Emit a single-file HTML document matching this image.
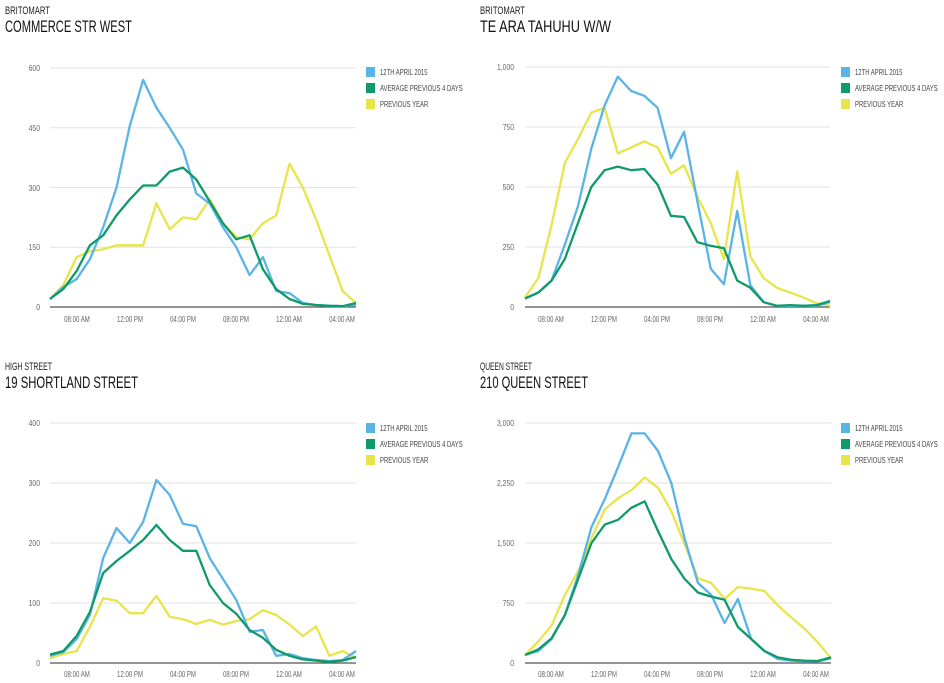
<!DOCTYPE html>
<html><head><meta charset="utf-8"><style>
body{margin:0;background:#fff;width:944px;height:683px;overflow:hidden}
svg{display:block}
.t1{font-family:"Liberation Sans",sans-serif;font-size:11px;fill:#222}
.t2{font-family:"Liberation Sans",sans-serif;font-size:17px;fill:#111}
.ax{font-family:"Liberation Sans",sans-serif;font-size:8px;fill:#666}
.lg{font-family:"Liberation Sans",sans-serif;font-size:8px;fill:#444}
</style></head><body>
<svg id="s" width="944" height="683" viewBox="0 0 944 683">
<text class="t1" x="5" y="14" textLength="45" lengthAdjust="spacingAndGlyphs">BRITOMART</text>
<text class="t2" x="5" y="32" textLength="127" lengthAdjust="spacingAndGlyphs">COMMERCE STR WEST</text>
<text class="t1" x="480" y="14" textLength="45" lengthAdjust="spacingAndGlyphs">BRITOMART</text>
<text class="t2" x="480" y="32" textLength="131" lengthAdjust="spacingAndGlyphs">TE ARA TAHUHU W/W</text>
<text class="t1" x="5" y="370" textLength="47" lengthAdjust="spacingAndGlyphs">HIGH STREET</text>
<text class="t2" x="5" y="388" textLength="133" lengthAdjust="spacingAndGlyphs">19 SHORTLAND STREET</text>
<text class="t1" x="480" y="370" textLength="52" lengthAdjust="spacingAndGlyphs">QUEEN STREET</text>
<text class="t2" x="480" y="388" textLength="108" lengthAdjust="spacingAndGlyphs">210 QUEEN STREET</text>

<g class="ax yl" text-anchor="end">
<text x="40" y="71">600</text><text x="40" y="131">450</text><text x="40" y="191">300</text><text x="40" y="250">150</text><text x="40" y="310">0</text>
<text x="514" y="70">1,000</text><text x="514" y="130">750</text><text x="514" y="190">500</text><text x="514" y="250">250</text><text x="514" y="310">0</text>
<text x="40" y="426">400</text><text x="40" y="486">300</text><text x="40" y="546">200</text><text x="40" y="606">100</text><text x="40" y="666">0</text>
<text x="514" y="426">3,000</text><text x="514" y="486">2,250</text><text x="514" y="546">1,500</text><text x="514" y="606">750</text><text x="514" y="666">0</text>
</g>
<g class="ax xl" text-anchor="middle">
<text x="77" y="322">08:00 AM</text><text x="130" y="322">12:00 PM</text><text x="183" y="322">04:00 PM</text><text x="236" y="322">08:00 PM</text><text x="289" y="322">12:00 AM</text><text x="342" y="322">04:00 AM</text>
<text x="551" y="322">08:00 AM</text><text x="604" y="322">12:00 PM</text><text x="657" y="322">04:00 PM</text><text x="710" y="322">08:00 PM</text><text x="763" y="322">12:00 AM</text><text x="816" y="322">04:00 AM</text>
<text x="77" y="677">08:00 AM</text><text x="130" y="677">12:00 PM</text><text x="183" y="677">04:00 PM</text><text x="236" y="677">08:00 PM</text><text x="289" y="677">12:00 AM</text><text x="342" y="677">04:00 AM</text>
<text x="551" y="677">08:00 AM</text><text x="604" y="677">12:00 PM</text><text x="657" y="677">04:00 PM</text><text x="710" y="677">08:00 PM</text><text x="763" y="677">12:00 AM</text><text x="816" y="677">04:00 AM</text>
</g>
<g class="lg">
<rect x="366" y="67" width="9" height="10" fill="#5ab4e5"/><text x="380" y="75">12TH APRIL 2015</text>
<rect x="366" y="83" width="9" height="10" fill="#0f9a6a"/><text x="380" y="91">AVERAGE PREVIOUS 4 DAYS</text>
<rect x="366" y="99" width="9" height="10" fill="#e8e54a"/><text x="380" y="107">PREVIOUS YEAR</text>
<rect x="841" y="67" width="9" height="10" fill="#5ab4e5"/><text x="855" y="75">12TH APRIL 2015</text>
<rect x="841" y="83" width="9" height="10" fill="#0f9a6a"/><text x="855" y="91">AVERAGE PREVIOUS 4 DAYS</text>
<rect x="841" y="99" width="9" height="10" fill="#e8e54a"/><text x="855" y="107">PREVIOUS YEAR</text>
<rect x="366" y="423" width="9" height="10" fill="#5ab4e5"/><text x="380" y="431">12TH APRIL 2015</text>
<rect x="366" y="439" width="9" height="10" fill="#0f9a6a"/><text x="380" y="447">AVERAGE PREVIOUS 4 DAYS</text>
<rect x="366" y="455" width="9" height="10" fill="#e8e54a"/><text x="380" y="463">PREVIOUS YEAR</text>
<rect x="841" y="423" width="9" height="10" fill="#5ab4e5"/><text x="855" y="431">12TH APRIL 2015</text>
<rect x="841" y="439" width="9" height="10" fill="#0f9a6a"/><text x="855" y="447">AVERAGE PREVIOUS 4 DAYS</text>
<rect x="841" y="455" width="9" height="10" fill="#e8e54a"/><text x="855" y="463">PREVIOUS YEAR</text>
</g>
<g id="plots"></g>
</svg>
<script>
function squeeze(sel,f){document.querySelectorAll(sel).forEach(function(t){var w=t.getComputedTextLength();t.setAttribute("textLength",(w*f).toFixed(1));t.setAttribute("lengthAdjust","spacingAndGlyphs");});}
squeeze(".lg text",0.74);squeeze(".xl text",0.76);squeeze(".yl text",0.85);
var charts=[
{x0:50,x1:356,yt:68,yb:307,max:600,d:[
[20,50,70,120,200,300,455,570,500,450,395,285,260,200,150,80,125,40,35,10,5,3,2,5],
[20,45,90,155,180,230,270,305,305,340,350,320,265,210,170,180,95,45,20,8,5,3,2,10],
[20,55,125,140,145,155,155,155,260,195,225,220,270,210,175,170,210,230,360,300,220,130,40,10]]},
{x0:525,x1:830,yt:67,yb:307,max:1000,d:[
[35,60,110,260,420,660,840,960,900,880,830,620,730,440,160,95,400,90,20,5,5,5,5,20],
[35,60,110,200,350,500,570,585,570,575,510,380,375,270,255,245,110,80,20,5,8,5,8,25],
[40,120,340,600,700,810,830,640,665,690,665,555,590,460,350,200,565,210,120,80,60,40,15,5]]},
{x0:50,x1:356,yt:423,yb:663,max:400,d:[
[12,18,40,80,175,225,200,235,305,280,232,228,175,140,105,52,55,12,15,8,5,3,5,20],
[14,20,45,85,150,170,187,205,230,205,187,187,130,100,82,55,42,22,12,6,4,2,4,10],
[8,15,20,60,108,104,83,83,112,77,73,65,72,64,70,73,88,80,64,45,61,12,20,8]]},
{x0:525,x1:831,yt:423,yb:663,max:3000,d:[
[100,150,300,600,1100,1700,2050,2450,2870,2870,2650,2250,1550,1000,850,500,800,300,150,50,30,20,20,60],
[100,170,310,600,1050,1500,1730,1790,1940,2020,1650,1300,1050,880,830,790,450,300,150,70,40,30,25,70],
[100,270,470,850,1150,1560,1920,2060,2160,2320,2190,1900,1480,1060,1000,800,950,930,900,720,570,430,260,60]]}];
var cols=["#5ab4e5","#0f9a6a","#e8e54a"],h="";
charts.forEach(function(c){
 for(var i=1;i<=4;i++){var y=c.yb-(c.yb-c.yt)*i/4;h+='<line x1="'+c.x0+'" x2="'+c.x1+'" y1="'+y+'" y2="'+y+'" stroke="#e2e2e2" stroke-width="1"/>';}
 h+='<line x1="'+c.x0+'" x2="'+c.x1+'" y1="'+c.yb+'" y2="'+c.yb+'" stroke="#555" stroke-width="1.2"/>';
 [2,0,1].forEach(function(k){var p=c.d[k].map(function(v,i){return (c.x0+(c.x1-c.x0)*i/23).toFixed(1)+","+(c.yb-(c.yb-c.yt)*v/c.max).toFixed(1)}).join(" ");
 h+='<polyline points="'+p+'" fill="none" stroke="'+cols[k]+'" stroke-width="2.3" stroke-linejoin="round"/>';});
});
document.getElementById("plots").innerHTML=h;
</script>
</body></html>
